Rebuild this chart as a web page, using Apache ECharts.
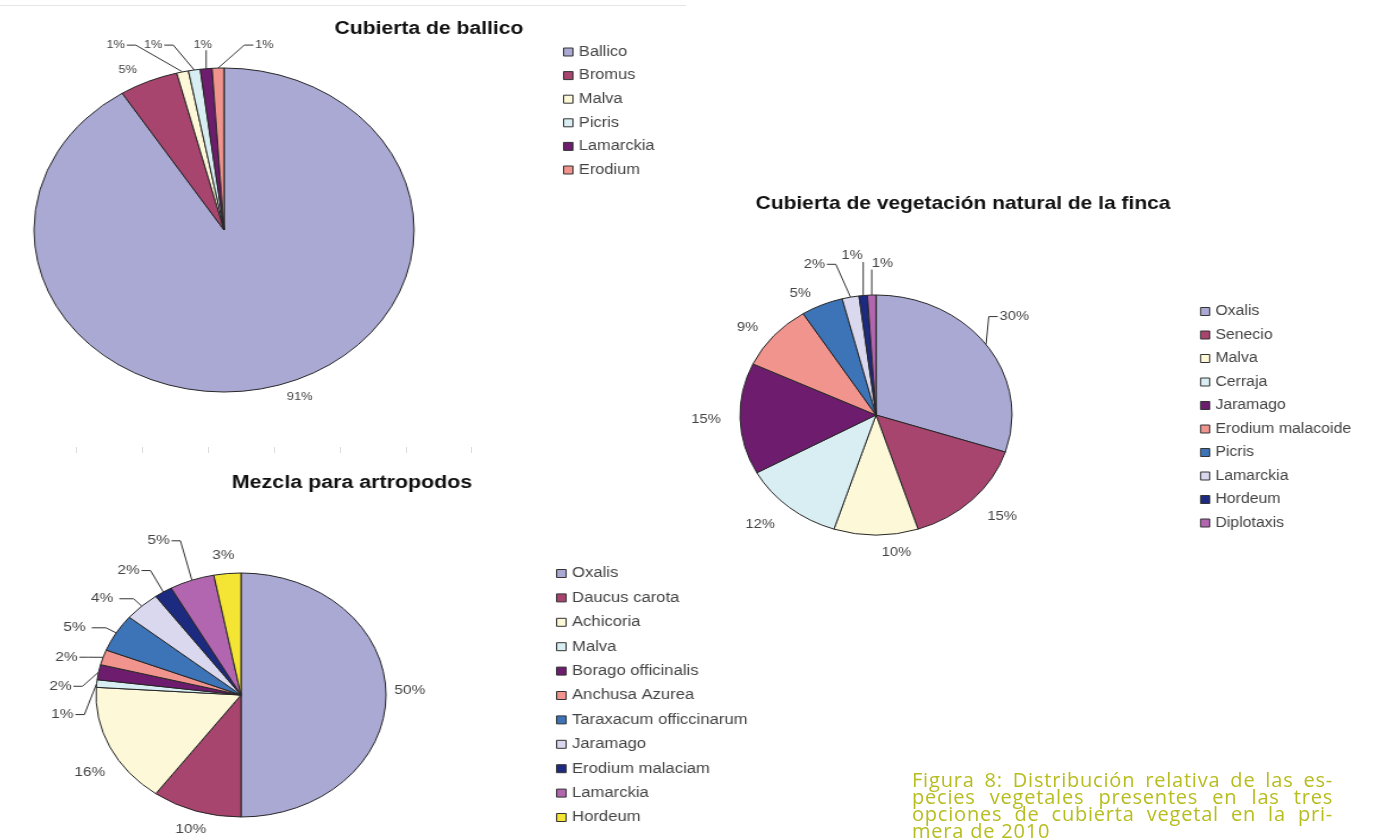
<!DOCTYPE html>
<html>
<head>
<meta charset="utf-8">
<title>Distribución relativa de especies vegetales</title>
<script src="https://cdn.jsdelivr.net/npm/echarts@6/dist/echarts.min.js"></script>
<style>
  html, body { margin: 0; padding: 0; background: #ffffff; }
  #stage { position: relative; width: 1376px; height: 839px; overflow: hidden; background: #ffffff; }
  .layer { position: absolute; left: 0; top: 0; width: 1376px; height: 839px; }
</style>
</head>
<body>
<div id="stage">
  <div id="note" class="layer"></div>
  <div id="ballico" class="layer"></div>
  <div id="natural" class="layer"></div>
  <div id="mix" class="layer"></div>
</div>
<script>
// Relative share (%) of each plant species in the three cover crops
const ballicoSpecies = ['Ballico', 'Bromus', 'Malva', 'Picris', 'Lamarckia', 'Erodium'];
const ballicoShare = [91, 5, 1, 1, 1, 1];

const naturalSpecies = ['Oxalis', 'Senecio', 'Malva', 'Cerraja', 'Jaramago', 'Erodium malacoide',
                        'Picris', 'Lamarckia', 'Hordeum', 'Diplotaxis'];
const naturalShare = [30, 15, 10, 12, 15, 9, 5, 2, 1, 1];

const mixSpecies = ['Oxalis', 'Daucus carota', 'Achicoria', 'Malva', 'Borago officinalis', 'Anchusa Azurea',
                    'Taraxacum officcinarum', 'Jaramago', 'Erodium malaciam', 'Lamarckia', 'Hordeum'];
const mixShare = [50, 10, 16, 1, 2, 2, 5, 4, 2, 5, 3];

const chartTitles = ['Cubierta de ballico', 'Cubierta de vegetación natural de la finca', 'Mezcla para artropodos'];

const captionLines = [
  'Figura 8: Distribución relativa de las es-',
  'pecies vegetales presentes en las tres',
  'opciones de cubierta vegetal en la pri-',
  'mera de 2010'
];

// Spreadsheet-style fill sequence used by all three pies
const palette = ['#aaa9d4', '#a8456f', '#fdf8d8', '#d8eef2', '#6e1c6e', '#f0948d',
                 '#3d74b8', '#d9d8ee', '#1c2a80', '#b366b0', '#f4e534'];

// Each panel is drawn in its own layer; the layer is stretched horizontally
// so the pie becomes an ellipse of radii rx by ry.
// leaders: slices whose label is tied to the pie by a leader line.
// labelNudge: extra [dx, dy] screen offsets applied to crowded labels.
const panels = [
  { el: 'ballico', title: chartTitles[0], names: ballicoSpecies, values: ballicoShare,
    cx: 224, cy: 230, rx: 190, ry: 162,
    titleX: 429, titleY: 29, titleSize: 18,
    legendX: 563, legendY: 52, legendStep: 23.6, legendSize: 14,
    labelSize: 11, gapLen: 12, leaders: [2, 3, 4, 5],
    labelNudge: { 2: [-35, -17], 3: [-10, -15], 4: [27, -14], 5: [76, -13] } },
  { el: 'natural', title: chartTitles[1], names: naturalSpecies, values: naturalShare,
    cx: 876, cy: 415, rx: 136, ry: 120,
    titleX: 963, titleY: 204, titleSize: 18.5,
    legendX: 1200, legendY: 311.5, legendStep: 23.5, legendSize: 14,
    labelSize: 13, gapLen: 12, leaders: [0, 7, 8, 9],
    labelNudge: { 0: [-15, -22], 1: [0, 8], 2: [0, 5], 3: [0, 8],
                  7: [-4, -23], 8: [20, -30], 9: [41, -22] } },
  { el: 'mix', title: chartTitles[2], names: mixSpecies, values: mixShare,
    cx: 241, cy: 695, rx: 145, ry: 122,
    titleX: 352, titleY: 483, titleSize: 18,
    legendX: 556, legendY: 573.5, legendStep: 24.4, legendSize: 14,
    labelSize: 13, gapLen: 8, leaders: [3, 4, 5, 6, 7, 8, 9],
    labelNudge: { 0: [-7, -5], 1: [19, 11], 2: [10, 22], 3: [9, 32], 4: [5, 16], 5: [6, 3],
                  8: [3, -13], 9: [2, -30], 10: [14, -10] } }
];

const FONT = '"Liberation Sans", Arial, sans-serif';

panels.forEach(function (p) {
  const s = p.rx / p.ry;
  const dom = document.getElementById(p.el);
  dom.style.transformOrigin = p.cx + 'px ' + p.cy + 'px';
  dom.style.transform = 'scaleX(' + s + ')';
  // convert a target x position into the layer's unstretched coordinates
  const pre = function (x) { return p.cx + (x - p.cx) / s; };
  const lh = 15;

  // Move crowded labels and redraw their leader lines as slant + horizontal run
  const placeLabel = function (params) {
    const nudge = p.labelNudge[params.dataIndex];
    if (!nudge) return;
    const r = params.labelRect;
    const x = r.x + r.width / 2 + nudge[0] / s;
    const y = r.y + r.height / 2 + nudge[1];
    const out = { x: x, y: y, align: 'center', verticalAlign: 'middle' };
    const pts = params.labelLinePoints;
    if (p.leaders.indexOf(params.dataIndex) >= 0 && pts && pts.length) {
      const a = pts[0];
      const half = r.width / 2 + 1.5;
      if (Math.abs(x - a[0]) <= half) {
        out.labelLinePoints = [a, [a[0], y + (a[1] > y ? 1 : -1) * (r.height / 2)]];
      } else {
        const side = x < a[0] ? 1 : -1;
        const edgeX = x + side * half;
        let elbowX = edgeX + side * 9 / s;
        if ((side > 0 && elbowX > a[0]) || (side < 0 && elbowX < a[0])) elbowX = a[0];
        out.labelLinePoints = [a, [elbowX, y], [edgeX, y]];
      }
    }
    return out;
  };

  const chart = echarts.init(dom, null, { renderer: 'canvas' });
  chart.setOption({
    animation: false,
    color: palette,
    graphic: [{
      type: 'text',
      x: pre(p.titleX),
      y: p.titleY,
      silent: true,
      style: {
        text: p.title,
        font: 'bold ' + p.titleSize + 'px ' + FONT,
        fill: '#111111',
        align: 'center', textAlign: 'center',
        verticalAlign: 'middle', textVerticalAlign: 'middle'
      }
    }],
    legend: {
      orient: 'vertical',
      left: pre(p.legendX),
      top: p.legendY - lh / 2,
      padding: 0,
      icon: 'rect',
      itemWidth: 8,
      itemHeight: 8,
      itemGap: p.legendStep - lh,
      selectedMode: false,
      itemStyle: { borderColor: '#333333', borderWidth: 1 },
      textStyle: { fontFamily: FONT, fontSize: p.legendSize, color: '#444444', lineHeight: lh },
      data: p.names
    },
    series: [{
      type: 'pie',
      center: [p.cx, p.cy],
      radius: p.ry,
      startAngle: 90,
      clockwise: true,
      avoidLabelOverlap: false,
      silent: true,
      itemStyle: { borderColor: '#262626', borderWidth: 1 },
      emphasis: { disabled: true },
      label: {
        show: true,
        position: 'outside',
        formatter: '{c}%',
        fontFamily: FONT,
        fontSize: p.labelSize,
        color: '#444444'
      },
      labelLine: { lineStyle: { color: '#333333', width: 1 } },
      labelLayout: placeLabel,
      data: p.names.map(function (name, i) {
        const lead = p.leaders.indexOf(i) >= 0;
        return {
          name: name,
          value: p.values[i],
          labelLine: lead ? { show: true, length: 10, length2: 12 }
                          : { show: false, length: p.gapLen, length2: 0 }
        };
      })
    }]
  });
});

// Figure caption: tracked, justified text across its column, plus the faint
// page rule at the top and the light tick marks under the first panel
const note = echarts.init(document.getElementById('note'));
const captionFont = '20px "Open Sans", sans-serif';
const tracking = 0.8;
const measure = document.createElement('canvas').getContext('2d');
measure.font = captionFont;
const colLeft = 912, colRight = 1333, firstLineY = 781, lineStep = 17;
const wordWidth = function (w) {
  let t = 0;
  for (const ch of w) t += measure.measureText(ch).width + tracking;
  return t;
};
const captionEls = [];
captionLines.forEach(function (line, li) {
  const words = line.split(' ');
  const widths = words.map(wordWidth);
  const total = widths.reduce(function (a, b) { return a + b; }, 0);
  const isLast = li === captionLines.length - 1;
  const gap = isLast ? measure.measureText(' ').width + tracking
                     : (colRight - colLeft - total) / (words.length - 1);
  let x = colLeft;
  words.forEach(function (w, wi) {
    let cxw = x;
    for (const ch of w) {
      captionEls.push({
        type: 'text', x: cxw, y: firstLineY + li * lineStep, silent: true,
        style: { text: ch, font: captionFont, fill: '#b7bd1f',
                 verticalAlign: 'middle', textVerticalAlign: 'middle' }
      });
      cxw += measure.measureText(ch).width + tracking;
    }
    x += widths[wi] + gap;
  });
});
captionEls.push({
  type: 'line', silent: true,
  shape: { x1: 0, y1: 5.5, x2: 686, y2: 5.5 },
  style: { stroke: '#e6e6e6', lineWidth: 1 }
});
for (let i = 0; i < 7; i++) {
  const tx = Math.round(76 + i * 65.9) + 0.5;
  captionEls.push({
    type: 'line', silent: true,
    shape: { x1: tx, y1: 447, x2: tx, y2: 453 },
    style: { stroke: '#dcdcdc', lineWidth: 1 }
  });
}
note.setOption({ animation: false, graphic: captionEls });
</script>
</body>
</html>
